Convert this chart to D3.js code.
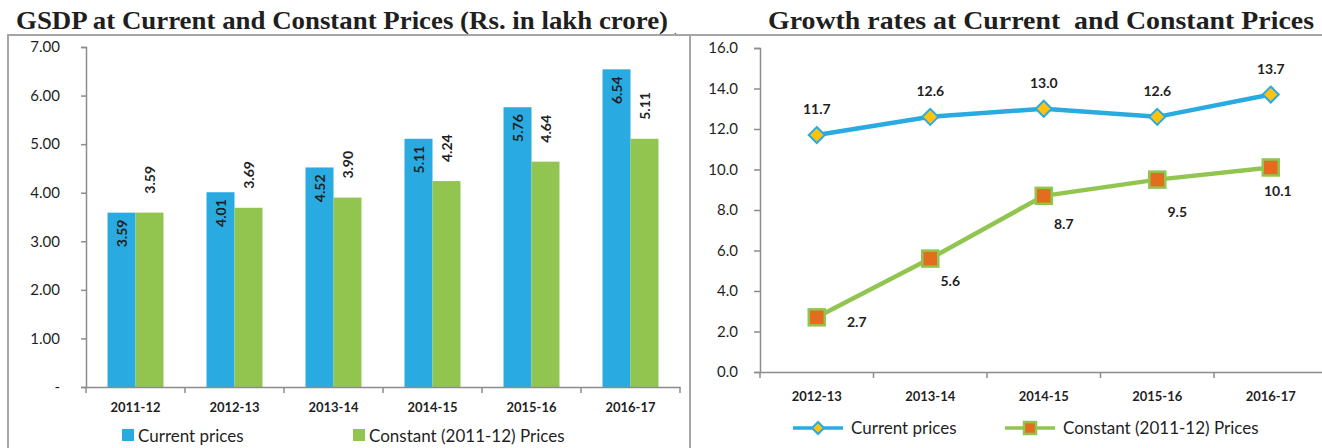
<!DOCTYPE html>
<html><head><meta charset="utf-8">
<script src="https://cdn.jsdelivr.net/npm/d3@7"></script>
<style>
html,body{margin:0;padding:0;background:#fff;}
svg{display:block;}
</style>
</head><body>
<svg id="chart" width="1322" height="448"></svg>
<script>
// ---- data ----
const years1 = ["2011-12","2012-13","2013-14","2014-15","2015-16","2016-17"];
const currentPrices = [3.59,4.01,4.52,5.11,5.76,6.54];
const constantPrices = [3.59,3.69,3.90,4.24,4.64,5.11];
const yTicks1 = [0,1,2,3,4,5,6,7];

const years2 = ["2012-13","2013-14","2014-15","2015-16","2016-17"];
const growthCurrent = [11.7,12.6,13.0,12.6,13.7];
const growthConstant = [2.7,5.6,8.7,9.5,10.1];
const yTicks2 = [0,2,4,6,8,10,12,14,16];

const seriesNames = ["Current prices","Constant (2011-12) Prices"];

// ---- styles ----
const BLUE = "#29ABE2", GREEN = "#92C550", ORANGE = "#E46C1E", YELLOW = "#FFC20E";
const AXIS = "#8C8C8C", FRAME = "#A6A6A6", TXT = "#1F1F1F";
const FONT = "Lato, 'Open Sans', sans-serif";
const SERIF = "'Liberation Serif', 'Times New Roman', Times, serif";
const svg = d3.select("#chart");

// frames
svg.append("rect").attr("x",8).attr("y",35).attr("width",682).attr("height",430)
  .attr("fill","none").attr("stroke",FRAME).attr("stroke-width",2);
svg.append("line").attr("x1",690).attr("x2",1322).attr("y1",35).attr("y2",35)
  .attr("stroke",FRAME).attr("stroke-width",2);

// titles
svg.append("text").attr("x",16).attr("y",29).text("GSDP at Current and Constant Prices (Rs. in lakh crore)")
  .attr("font-family",SERIF).attr("font-weight","bold")
  .attr("font-size",26).attr("fill",TXT).attr("textLength",652).attr("lengthAdjust","spacingAndGlyphs");
svg.append("text").attr("x",674).attr("y",34).text(".").attr("font-size",10).attr("fill",TXT)
  .attr("font-family",SERIF);
svg.append("text").attr("x",768).attr("y",29).text("Growth rates at Current  and Constant Prices")
  .style("white-space","pre")
  .attr("font-family",SERIF).attr("font-weight","bold")
  .attr("font-size",26).attr("fill",TXT).attr("textLength",546).attr("lengthAdjust","spacingAndGlyphs");

// ================= LEFT: bar chart =================
const x1 = d3.scaleBand().domain(years1).range([86,680]).padding(0);
const xs = d3.scaleBand().domain([0,1]).range([21.5,77.5]).padding(0);
const y1 = d3.scaleLinear().domain([0,7]).range([387,47]);

const gL = svg.append("g");
// y axis
const ay1 = gL.append("g").attr("transform","translate(86,0)")
  .call(d3.axisLeft(y1).tickValues(yTicks1).tickSize(5).tickSizeOuter(5)
    .tickFormat(d => d===0 ? "-" : d.toFixed(2)));
ay1.selectAll("path,line").attr("stroke",AXIS).attr("stroke-width",1.5);
ay1.selectAll("text").attr("font-family",FONT).attr("font-size",15).attr("fill",TXT).attr("x",-26);

// bars
const series1 = [currentPrices, constantPrices];
const colors1 = [BLUE, GREEN];
series1.forEach((vals, si) => {
  gL.append("g").selectAll("rect").data(vals).join("rect")
    .attr("x",(d,i)=>x1(years1[i])+xs(si))
    .attr("y",d=>y1(d)).attr("width",xs.bandwidth()).attr("height",d=>y1(0)-y1(d))
    .attr("fill",colors1[si]);
});
// labels: current inside end, constant outside end
gL.append("g").selectAll("text").data(currentPrices).join("text")
  .attr("transform",(d,i)=>`translate(${x1(years1[i])+xs(0)+xs.bandwidth()/2+5},${y1(d)+7}) rotate(-90)`)
  .attr("text-anchor","end").text(d=>d.toFixed(2))
  .attr("font-family",FONT).attr("font-weight","bold").attr("font-size",14).attr("fill",TXT);
gL.append("g").selectAll("text").data(constantPrices).join("text")
  .attr("transform",(d,i)=>`translate(${x1(years1[i])+xs(1)+xs.bandwidth()/2+5},${y1(d)-19}) rotate(-90)`)
  .attr("text-anchor","start").text(d=>d.toFixed(2))
  .attr("font-family",FONT).attr("font-weight","bold").attr("font-size",14).attr("fill",TXT);

// x axis
const ax1 = gL.append("g").attr("transform","translate(0,387)")
  .call(d3.axisBottom(x1).tickSize(0).tickSizeOuter(0).tickPadding(16));
ax1.select(".domain").attr("stroke",AXIS).attr("stroke-width",1.5);
ax1.selectAll("text").attr("font-family",FONT).attr("font-weight","bold").attr("font-size",13).attr("fill",TXT);
gL.append("g").selectAll("line").data(d3.range(years1.length+1)).join("line")
  .attr("x1",i=>x1.range()[0]+i*x1.step()).attr("x2",i=>x1.range()[0]+i*x1.step())
  .attr("y1",387).attr("y2",393).attr("stroke",AXIS).attr("stroke-width",1.5);

// legend left
const legL = [{x:122},{x:353}];
legL.forEach((p,i)=>{
  gL.append("rect").attr("x",p.x).attr("y",429).attr("width",12).attr("height",12).attr("fill",colors1[i]);
  gL.append("text").attr("x",p.x+16).attr("y",442).text(seriesNames[i])
    .attr("font-family",FONT).attr("font-size",17).attr("fill",TXT);
});

// ================= RIGHT: line chart =================
const x2 = d3.scaleBand().domain(years2).range([760,1327.5]).padding(0);
const cx = d => x2(d)+x2.bandwidth()/2;
const y2 = d3.scaleLinear().domain([0,16]).range([372,48]);
const gR = svg.append("g");

const ay2 = gR.append("g").attr("transform","translate(760,0)")
  .call(d3.axisLeft(y2).tickValues(yTicks2).tickSize(6).tickSizeOuter(6).tickFormat(d=>d.toFixed(1)));
ay2.selectAll("path,line").attr("stroke",AXIS).attr("stroke-width",1.5);
ay2.selectAll("text").attr("font-family",FONT).attr("font-size",15).attr("fill",TXT).attr("x",-22);

const ax2 = gR.append("g").attr("transform","translate(0,372)")
  .call(d3.axisBottom(x2).tickSize(0).tickSizeOuter(0).tickPadding(20));
ax2.select(".domain").attr("stroke",AXIS).attr("stroke-width",1.5);
ax2.selectAll("text").attr("font-family",FONT).attr("font-weight","bold").attr("font-size",13).attr("fill",TXT);
gR.append("g").selectAll("line").data(d3.range(years2.length+1)).join("line")
  .attr("x1",i=>x2.range()[0]+i*x2.step()).attr("x2",i=>x2.range()[0]+i*x2.step())
  .attr("y1",372).attr("y2",378).attr("stroke",AXIS).attr("stroke-width",1.5);

const line = d3.line().x((d,i)=>cx(years2[i])).y(d=>y2(d));
gR.append("path").datum(growthCurrent).attr("d",line).attr("fill","none").attr("stroke",BLUE).attr("stroke-width",4.5);
gR.append("path").datum(growthConstant).attr("d",line).attr("fill","none").attr("stroke",GREEN).attr("stroke-width",4.5);

const diamond = (g,x,y,s)=> g.append("path")
  .attr("d",`M${x},${y-s}L${x+s},${y}L${x},${y+s}L${x-s},${y}Z`)
  .attr("fill",YELLOW).attr("stroke",BLUE).attr("stroke-width",2);
const square = (g,x,y,s)=> g.append("rect").attr("x",x-s).attr("y",y-s).attr("width",2*s).attr("height",2*s)
  .attr("fill",ORANGE).attr("stroke",GREEN).attr("stroke-width",2.5);

growthCurrent.forEach((d,i)=>diamond(gR,cx(years2[i]),y2(d),8));
growthConstant.forEach((d,i)=>square(gR,cx(years2[i]),y2(d),8));

gR.append("g").selectAll("text").data(growthCurrent).join("text")
  .attr("x",(d,i)=>cx(years2[i])).attr("y",d=>y2(d)-21).attr("text-anchor","middle")
  .text(d=>d.toFixed(1)).attr("font-family",FONT).attr("font-weight","bold").attr("font-size",14).attr("fill",TXT);

const conLabelDx = [40,20,20,20,7], conLabelDy = [5,22,28,32,24];
gR.append("g").selectAll("text").data(growthConstant).join("text")
  .attr("x",(d,i)=>cx(years2[i])+conLabelDx[i]).attr("y",(d,i)=>y2(d)+conLabelDy[i]+5).attr("text-anchor","middle")
  .text(d=>d.toFixed(1)).attr("font-family",FONT).attr("font-weight","bold").attr("font-size",14).attr("fill",TXT);

// legend right
const legR = [{x:793},{x:1005}];
legR.forEach((p,i)=>{
  gR.append("line").attr("x1",p.x).attr("x2",p.x+50).attr("y1",428).attr("y2",428)
    .attr("stroke",i===0?BLUE:GREEN).attr("stroke-width",3.5);
  if(i===0) diamond(gR,p.x+25,428,6); else square(gR,p.x+25,428,6);
  gR.append("text").attr("x",p.x+58).attr("y",434).text(seriesNames[i])
    .attr("font-family",FONT).attr("font-size",17).attr("fill",TXT);
});
</script>
</body></html>
